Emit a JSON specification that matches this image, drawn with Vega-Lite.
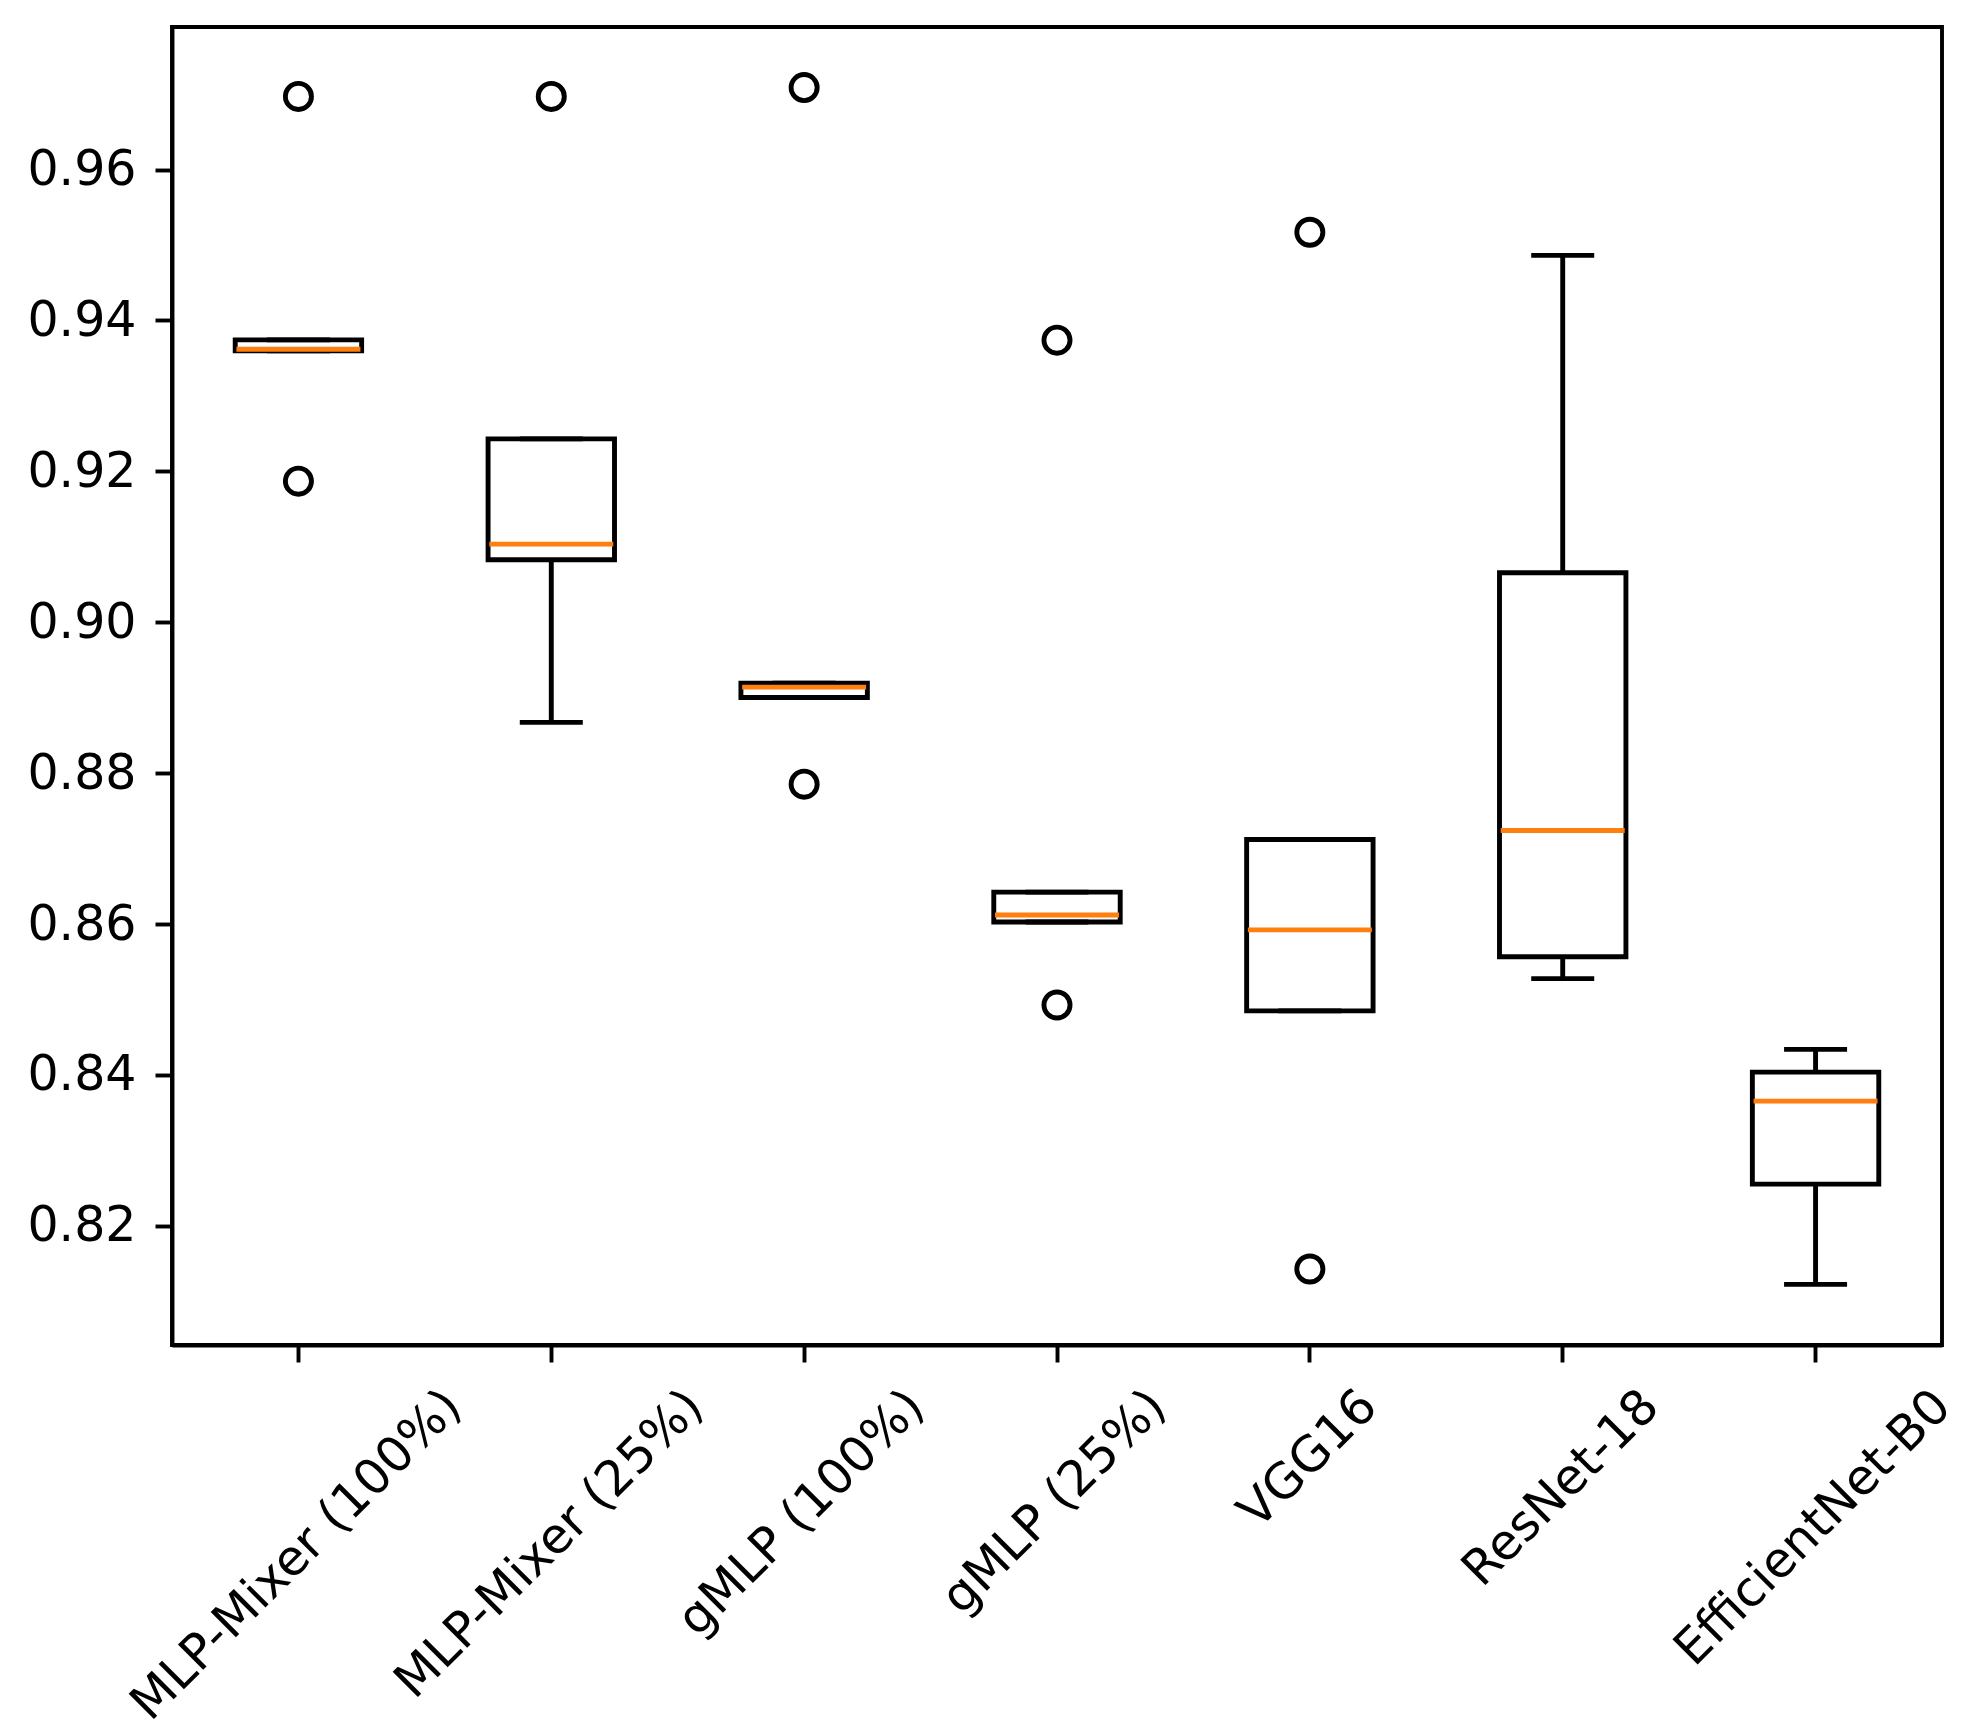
{
  "$schema": "https://vega.github.io/schema/vega-lite/v6.json",
  "width": 1770,
  "height": 1318,
  "autosize": {"type": "none"},
  "padding": {"left": 172, "top": 27, "right": 37, "bottom": 390},
  "background": "white",
  "datasets": {
    "stats": [
      {"model": "MLP-Mixer (100%)", "lo": 0.93598, "q1": 0.93598, "med": 0.93618, "q3": 0.93743, "hi": 0.93743},
      {"model": "MLP-Mixer (25%)", "lo": 0.88673, "q1": 0.90829, "med": 0.91036, "q3": 0.92431, "hi": 0.92431},
      {"model": "gMLP (100%)", "lo": 0.89003, "q1": 0.89003, "med": 0.8914, "q3": 0.89193, "hi": 0.89193},
      {"model": "gMLP (25%)", "lo": 0.86027, "q1": 0.86027, "med": 0.8612, "q3": 0.86423, "hi": 0.86423},
      {"model": "VGG16", "lo": 0.84849, "q1": 0.84849, "med": 0.85922, "q3": 0.8712, "hi": 0.8712},
      {"model": "ResNet-18", "lo": 0.85276, "q1": 0.85566, "med": 0.8724, "q3": 0.90657, "hi": 0.94863},
      {"model": "EfficientNet-B0", "lo": 0.81223, "q1": 0.82553, "med": 0.83653, "q3": 0.84037, "hi": 0.84339}
    ],
    "outliers": [
      {"model": "MLP-Mixer (100%)", "value": 0.9697},
      {"model": "MLP-Mixer (100%)", "value": 0.9187},
      {"model": "MLP-Mixer (25%)", "value": 0.9697},
      {"model": "gMLP (100%)", "value": 0.97087},
      {"model": "gMLP (100%)", "value": 0.87854},
      {"model": "gMLP (25%)", "value": 0.93739},
      {"model": "gMLP (25%)", "value": 0.84927},
      {"model": "VGG16", "value": 0.95169},
      {"model": "VGG16", "value": 0.81427}
    ]
  },
  "encoding": {
    "x": {
      "field": "model",
      "type": "nominal",
      "sort": ["MLP-Mixer (100%)", "MLP-Mixer (25%)", "gMLP (100%)", "gMLP (25%)", "VGG16", "ResNet-18", "EfficientNet-B0"],
      "scale": {"domain": ["MLP-Mixer (100%)", "MLP-Mixer (25%)", "gMLP (100%)", "gMLP (25%)", "VGG16", "ResNet-18", "EfficientNet-B0"], "paddingInner": 0, "paddingOuter": 0},
      "axis": {
        "title": null,
        "labelAngle": -45,
        "labelAlign": "right",
        "labelBaseline": "middle",
        "labelPadding": 36,
        "labelLimit": 0,
        "labelOverlap": false,
        "labelBound": false,
        "labelFlush": false,
        "labelOffset": {"expr": "datum.value == 'MLP-Mixer (100%)' ? 155 : datum.value == 'MLP-Mixer (25%)' ? 144 : datum.value == 'gMLP (100%)' ? 112 : datum.value == 'gMLP (25%)' ? 101 : datum.value == 'VGG16' ? 59 : datum.value == 'ResNet-18' ? 88 : 127"}
      }
    }
  },
  "layer": [
    {
      "data": {"name": "stats"},
      "mark": {"type": "rule", "color": "black", "strokeWidth": 4.9},
      "encoding": {
        "y": {"field": "lo", "type": "quantitative", "scale": {"domain": [0.8042, 0.9789], "nice": false, "zero": false},
          "axis": {"title": null, "values": [0.82, 0.84, 0.86, 0.88, 0.9, 0.92, 0.94, 0.96], "format": ".2f", "labelPadding": 19}},
        "y2": {"field": "hi"}
      }
    },
    {
      "data": {"name": "stats"},
      "mark": {"type": "bar", "width": {"band": 0.5}, "fill": "white", "stroke": "black", "strokeWidth": 4.9, "opacity": 1},
      "encoding": {
        "y": {"field": "q1", "type": "quantitative"},
        "y2": {"field": "q3"}
      }
    },
    {
      "data": {"name": "stats"},
      "mark": {"type": "tick", "color": "black", "size": 63, "thickness": 4.9, "opacity": 1},
      "encoding": {"y": {"field": "lo", "type": "quantitative"}}
    },
    {
      "data": {"name": "stats"},
      "mark": {"type": "tick", "color": "black", "size": 63, "thickness": 4.9, "opacity": 1},
      "encoding": {"y": {"field": "hi", "type": "quantitative"}}
    },
    {
      "data": {"name": "stats"},
      "mark": {"type": "tick", "color": "#ff7f0e", "size": 124, "thickness": 4.9, "opacity": 1},
      "encoding": {"y": {"field": "med", "type": "quantitative"}}
    },
    {
      "data": {"name": "outliers"},
      "mark": {"type": "point", "shape": "circle", "filled": false, "stroke": "black", "strokeWidth": 4.9, "size": 680, "opacity": 1},
      "encoding": {"y": {"field": "value", "type": "quantitative"}}
    }
  ],
  "config": {
    "font": "DejaVu Sans",
    "view": {"stroke": "black", "strokeWidth": 3.9},
    "axis": {
      "grid": false,
      "domainColor": "black",
      "domainWidth": 3.9,
      "tickColor": "black",
      "tickWidth": 3.9,
      "tickSize": 17,
      "labelColor": "black",
      "labelFont": "DejaVu Sans",
      "labelFontSize": 49
    }
  }
}
